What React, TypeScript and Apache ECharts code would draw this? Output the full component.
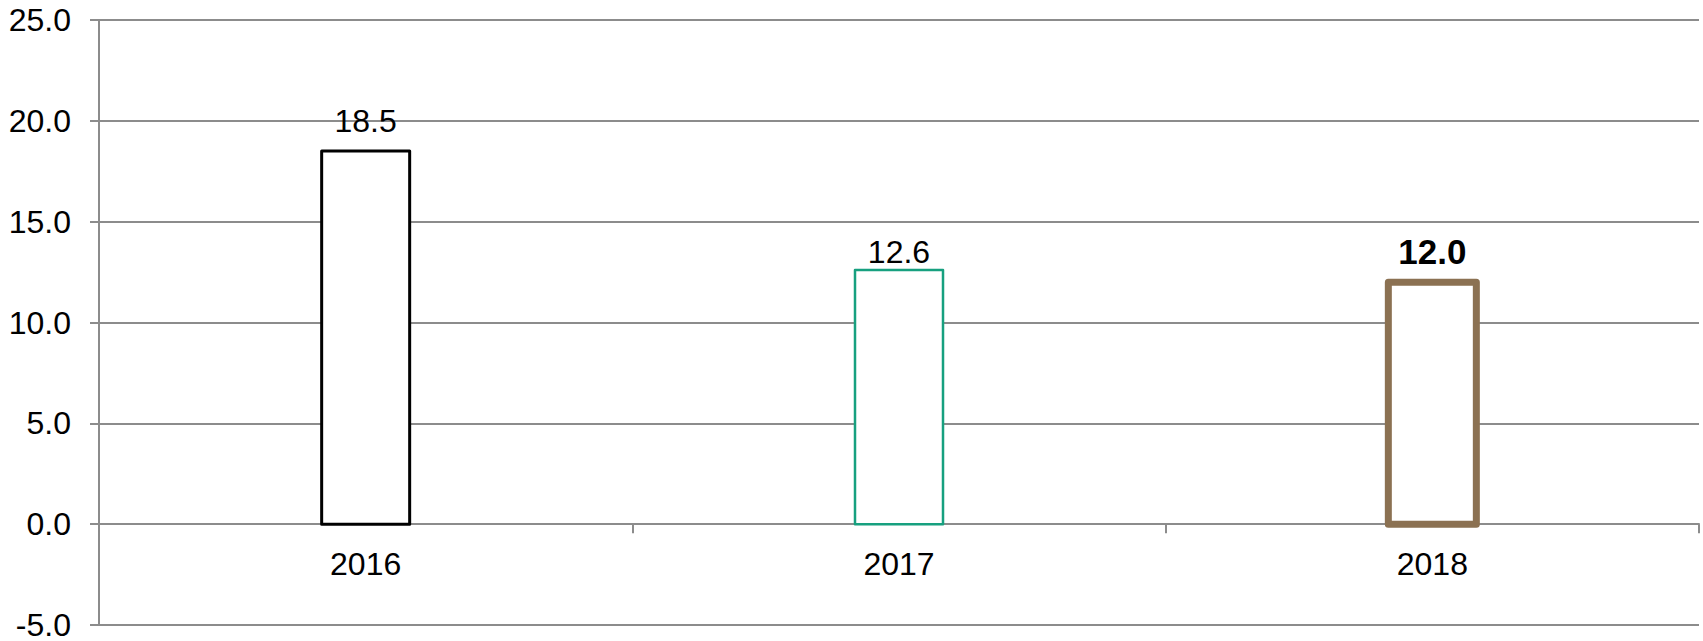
import React, { useEffect, useRef } from "react";
import * as echarts from "echarts";

const categories = ["2016", "2017", "2018"];
const values = [18.5, 12.6, 12.0];
const borderColors = ["#000000", "#17a07f", "#8b7152"];
const borderWidths = [3, 2.5, 7];
const labelDistances = [12.5, 1, 9.5];
const labelBold = [false, false, true];
const labelSizes = [32, 32, 35];
const yTicks = { min: -5, max: 25, interval: 5 };

const FONT = "'Liberation Sans', Arial, sans-serif";
const BAR_W = 88;

export default function App() {
  const ref = useRef<HTMLDivElement>(null);
  useEffect(() => {
    document.body.style.margin = "0";
    const chart = echarts.init(ref.current!, null, { renderer: "svg" });
    chart.setOption({
      animation: false,
      backgroundColor: "#ffffff",
      grid: { left: 99, right: 4, top: 20, bottom: 16, containLabel: false, outerBoundsMode: "none" },
      xAxis: {
        type: "category",
        data: categories,
        axisLine: { show: true, onZero: true, lineStyle: { color: "#8c8c8c", width: 2 } },
        axisTick: { show: true, inside: false, length: 9, lineStyle: { color: "#8c8c8c", width: 2 } },
        axisLabel: { color: "#000", fontSize: 32, fontFamily: FONT, margin: -77 },
        splitLine: { show: false },
      },
      yAxis: {
        type: "value",
        min: yTicks.min,
        max: yTicks.max,
        interval: yTicks.interval,
        axisLine: { show: true, lineStyle: { color: "#8c8c8c", width: 2 } },
        axisTick: { show: true, inside: false, length: 9, lineStyle: { color: "#8c8c8c", width: 2 } },
        axisLabel: {
          color: "#000",
          fontSize: 32,
          fontFamily: FONT,
          margin: 28,
          formatter: (v: number) => v.toFixed(1),
        },
        splitLine: { show: true, lineStyle: { color: "#8c8c8c", width: 2 } },
      },
      series: [
        {
          type: "custom",
          encode: { x: 0, y: 1 },
          data: values.map((v, i) => [i, v]),
          renderItem: (params: any, api: any) => {
            const i = api.value(0);
            const v = api.value(1);
            const top = api.coord([i, v]);
            const base = api.coord([i, 0]);
            return {
              type: "rect",
              shape: { x: top[0] - BAR_W / 2, y: top[1], width: BAR_W, height: base[1] - top[1] },
              style: {
                fill: "#ffffff",
                stroke: borderColors[i],
                lineWidth: borderWidths[i],
                lineJoin: "round",
              },
              textContent: {
                style: {
                  text: Number(v).toFixed(1),
                  fill: "#000",
                  font: `${labelBold[i] ? "bold " : ""}${labelSizes[i]}px ${FONT}`,
                },
              },
              textConfig: { position: "top", distance: labelDistances[i] },
            };
          },
        },
      ],
    });
    return () => chart.dispose();
  }, []);
  return <div ref={ref} style={{ width: 1703, height: 641 }} />;
}
